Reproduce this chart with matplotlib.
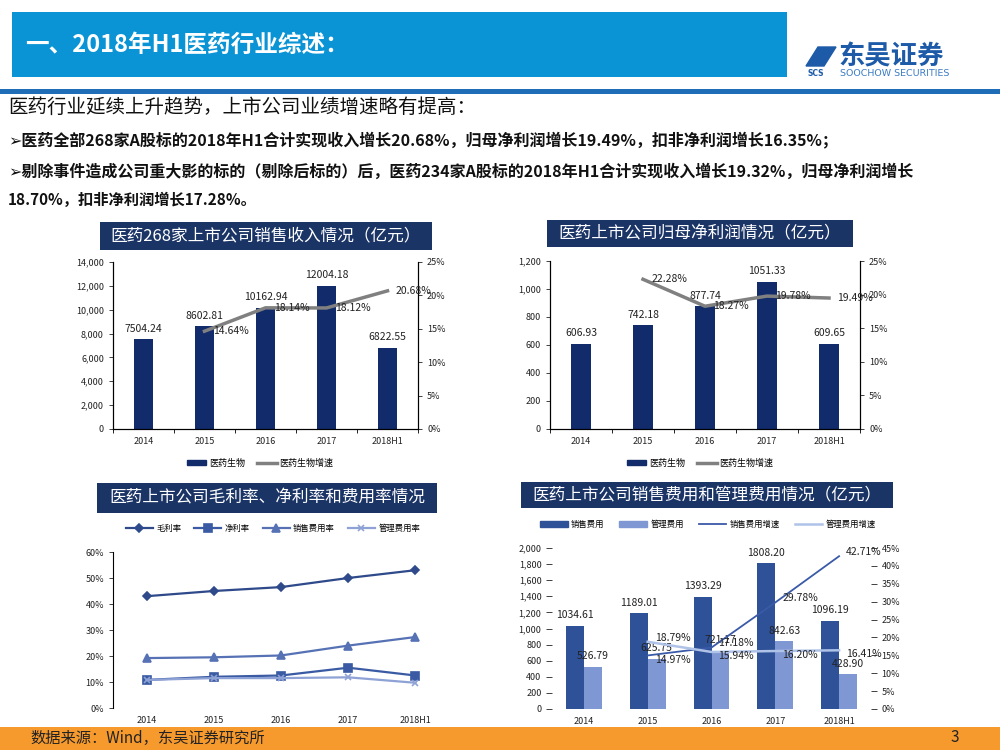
import numpy as np
import matplotlib.pyplot as plt
from matplotlib.patches import Rectangle, Patch, Polygon
from matplotlib.lines import Line2D
from matplotlib.ticker import FuncFormatter

plt.rcParams['font.family'] = ['Noto Sans CJK SC', 'DejaVu Sans']
plt.rcParams['axes.unicode_minus'] = False

# ---- data ----
years = ["2014", "2015", "2016", "2017", "2018H1"]

revenue = [7504.24, 8602.81, 10162.94, 12004.18, 6822.55]
revenue_growth = [14.64, 18.14, 18.12, 20.68]          # from 2015

profit = [606.93, 742.18, 877.74, 1051.33, 609.65]
profit_growth = [22.28, 18.27, 19.78, 19.49]           # from 2015

gross_margin = [43.0, 45.0, 46.5, 50.0, 53.0]
net_margin = [10.8, 12.0, 12.5, 15.5, 12.5]
sales_ratio = [19.2, 19.5, 20.2, 24.0, 27.3]
admin_ratio = [10.8, 11.5, 11.5, 11.8, 9.7]
ratio_names = ["毛利率", "净利率", "销售费用率", "管理费用率"]

sales_exp = [1034.61, 1189.01, 1393.29, 1808.20, 1096.19]
admin_exp = [526.79, 625.75, 721.17, 842.63, 428.90]
sales_growth = [14.97, 17.18, 29.78, 42.71]            # from 2015
admin_growth = [18.79, 15.94, 16.20, 16.41]            # from 2015

NAVY = '#112B6B'
BOX = '#1B3466'
GRAY = '#808080'

fig = plt.figure(figsize=(10, 7.5), dpi=100)


def px(x0, y0, x1, y1):
    return [x0 / 1000, 1 - y1 / 750, (x1 - x0) / 1000, (y1 - y0) / 750]


def fx(x):
    return x / 1000


def fy(y):
    return 1 - y / 750


def box(x0, y0, x1, y1, color, z=0):
    fig.add_artist(Rectangle((fx(x0), fy(y1)), fx(x1) - fx(x0), fy(y0) - fy(y1),
                             transform=fig.transFigure, color=color, zorder=z, lw=0))


def title_box(x0, y0, x1, y1, text):
    box(x0, y0, x1, y1, BOX)
    fig.text(fx((x0 + x1) / 2), fy((y0 + y1) / 2), text, color='white', fontsize=12,
             ha='center', va='center')


# ---- header ----
box(12, 12, 787, 77, '#0A94D6')
fig.text(fx(25), fy(45), "一、2018年H1医药行业综述：", color='white', fontsize=17,
         fontweight='bold', ha='left', va='center')
fig.add_artist(Polygon([(fx(806), fy(66)), (fx(818), fy(47)), (fx(836), fy(47)), (fx(824), fy(66))],
                       closed=True, transform=fig.transFigure, color='#1D5BA8'))
fig.text(fx(808), fy(73), "SCS", color='#1D5BA8', fontsize=5.5, fontweight='bold',
         ha='left', va='center', family='DejaVu Sans')
fig.text(fx(838), fy(57), "东吴证券", color='#1D5BA8', fontsize=19, fontweight='bold',
         ha='left', va='center')
fig.text(fx(840), fy(73), "SOOCHOW SECURITIES", color='#3B7CC4', fontsize=6.8,
         ha='left', va='center', family='DejaVu Sans')
box(0, 89, 1000, 94, '#1F6DB6')

# ---- body text ----
fig.text(fx(8), fy(107), "医药行业延续上升趋势，上市公司业绩增速略有提高：", fontsize=14,
         ha='left', va='center', color='#111111')
fig.text(fx(8), fy(140), "➢医药全部268家A股标的2018年H1合计实现收入增长20.68%，归母净利润增长19.49%，扣非净利润增长16.35%；",
         fontsize=11.5, fontweight='bold', ha='left', va='center', color='#111111')
fig.text(fx(8), fy(172), "➢剔除事件造成公司重大影的标的（剔除后标的）后，医药234家A股标的2018年H1合计实现收入增长19.32%，归母净利润增长",
         fontsize=11.5, fontweight='bold', ha='left', va='center', color='#111111')
fig.text(fx(8), fy(200), "18.70%，扣非净利润增长17.28%。",
         fontsize=11, fontweight='bold', ha='left', va='center', color='#111111')

# ---- footer ----
box(0, 727, 1000, 750, '#F79A2E')
fig.text(fx(30), fy(738), "数据来源：Wind，东吴证券研究所", fontsize=11, ha='left', va='center',
         color='#222222')
fig.text(fx(955), fy(738), "3", fontsize=11, ha='center', va='center', color='#222222')

x = np.arange(len(years))
pct = FuncFormatter(lambda v, p: f"{v:.0f}%")
thou = FuncFormatter(lambda v, p: f"{v:,.0f}")


def style_axes(ax, show_spines=True):
    for s in ['top']:
        ax.spines[s].set_visible(False)
    for s in ['left', 'right', 'bottom']:
        ax.spines[s].set_visible(show_spines)
        ax.spines[s].set_linewidth(0.8)
    ax.tick_params(axis='both', labelsize=6.5, length=3, width=0.6, colors='#222222')
    ax.set_xlim(-0.5, len(years) - 0.5)
    ax.set_xticks(x)
    ax.set_xticklabels(years)
    ax.tick_params(axis='x', length=0, pad=6)
    ax.set_xticks(np.arange(len(years) + 1) - 0.5, minor=True)
    ax.tick_params(axis='x', which='minor', length=3 if show_spines else 0)


def bar_line_chart(rect, vals, growth, ymax, ystep, gmax, legend_xy):
    ax = fig.add_axes(px(*rect))
    ax.bar(x, vals, width=0.31, color=NAVY, zorder=2)
    ax.set_ylim(0, ymax)
    ax.set_yticks(np.arange(0, ymax + 1, ystep))
    ax.yaxis.set_major_formatter(thou)
    style_axes(ax)
    for i, v in enumerate(vals):
        ax.annotate(f"{v:.2f}", (i, v), xytext=(0, 4), textcoords='offset points',
                    ha='center', va='bottom', fontsize=7.5, color='#222222')
    ax2 = ax.twinx()
    ax2.plot(x[1:], growth, color=GRAY, lw=2.5, zorder=3)
    ax2.set_ylim(0, gmax)
    ax2.set_yticks(np.arange(0, gmax + 1, 5))
    ax2.yaxis.set_major_formatter(pct)
    ax2.spines['top'].set_visible(False)
    ax2.tick_params(axis='y', labelsize=6.5, length=3, width=0.6, colors='#222222')
    for i, g in zip(x[1:], growth):
        ax2.annotate(f"{g:.2f}%", (i, g), xytext=(6, 0), textcoords='offset points',
                     ha='left', va='center', fontsize=7.5, color='#222222')
    handles = [Patch(color=NAVY), Line2D([], [], color=GRAY, lw=2.5)]
    fig.legend(handles, ["医药生物", "医药生物增速"], loc='center',
               bbox_to_anchor=(fx(legend_xy[0]), fy(legend_xy[1])), ncol=2, frameon=False,
               fontsize=6.5, handlelength=2.2, handleheight=0.6, columnspacing=1.3,
               handletextpad=0.3)


# ---- chart 1 ----
title_box(100, 222, 432, 250, "医药268家上市公司销售收入情况（亿元）")
bar_line_chart((113, 262, 418, 429), revenue, revenue_growth, 14000, 2000, 25, (260, 463))

# ---- chart 2 ----
title_box(547, 220, 853, 247, "医药上市公司归母净利润情况（亿元）")
bar_line_chart((550, 261, 860, 429), profit, profit_growth, 1200, 200, 25, (700, 463))

# ---- chart 3 ----
title_box(97, 483, 437, 513, "医药上市公司毛利率、净利率和费用率情况")
ax3 = fig.add_axes(px(113, 552, 449, 708))
series3 = [gross_margin, net_margin, sales_ratio, admin_ratio]
colors3 = ['#2F4A8A', '#3A5BA3', '#5672B5', '#8FA2D6']
markers3 = ['D', 's', '^', 'x']
msizes3 = [4, 6, 6, 5]
handles3 = []
for s, c, m, ms in zip(series3, colors3, markers3, msizes3):
    h, = ax3.plot(x, s, color=c, marker=m, markersize=ms, lw=1.6, mew=1.2)
    handles3.append(h)
ax3.set_ylim(0, 60)
ax3.set_yticks(np.arange(0, 61, 10))
ax3.yaxis.set_major_formatter(pct)
style_axes(ax3)
ax3.spines['right'].set_visible(False)
ax3.spines['bottom'].set_visible(False)
ax3.tick_params(axis='x', which='minor', length=0)
fig.legend(handles3, ratio_names, loc='center', bbox_to_anchor=(fx(273), fy(528)), ncol=4,
           frameon=False, fontsize=6, handlelength=3.2, columnspacing=1.6, handletextpad=0.4)

# ---- chart 4 ----
title_box(521, 482, 893, 508, "医药上市公司销售费用和管理费用情况（亿元）")
DARK4 = '#2E5197'
LIGHT4 = '#7F97D3'
SLINE = '#3A5AA8'
ALINE = '#AFC2E8'
ax4 = fig.add_axes(px(552, 548, 871, 709))
w = 0.28
ax4.bar(x - w / 2, sales_exp, width=w, color=DARK4, zorder=2)
ax4.bar(x + w / 2, admin_exp, width=w, color=LIGHT4, zorder=2)
ax4.set_ylim(0, 2000)
ax4.set_yticks(np.arange(0, 2001, 200))
ax4.yaxis.set_major_formatter(thou)
style_axes(ax4, show_spines=False)
ax4.tick_params(axis='y', length=4)
for i, v in enumerate(sales_exp):
    ax4.annotate(f"{v:.2f}", (i - w / 2, v), xytext=(0, 4), textcoords='offset points',
                 ha='center', va='bottom', fontsize=7.5, color='#222222')
for i, v in enumerate(admin_exp):
    ax4.annotate(f"{v:.2f}", (i + w / 2, v), xytext=(0, 4), textcoords='offset points',
                 ha='center', va='bottom', fontsize=7.5, color='#222222')
ax5 = ax4.twinx()
ax5.plot(x[1:], sales_growth, color=SLINE, lw=1.3, zorder=3)
ax5.plot(x[1:], admin_growth, color=ALINE, lw=1.8, zorder=3)
ax5.set_ylim(0, 45)
ax5.set_yticks(np.arange(0, 46, 5))
ax5.yaxis.set_major_formatter(pct)
for s in ax5.spines.values():
    s.set_visible(False)
ax5.tick_params(axis='y', labelsize=6.5, length=4, width=0.6, colors='#222222')
for i, (sg, ag) in enumerate(zip(sales_growth, admin_growth)):
    hi_s = sg > ag
    ax5.annotate(f"{sg:.2f}%", (x[i + 1], sg), xytext=(5, 3 if hi_s else -3),
                 textcoords='offset points', ha='left', va='center', fontsize=7.5,
                 color='#222222')
    ax5.annotate(f"{ag:.2f}%", (x[i + 1], ag), xytext=(5, -3 if hi_s else 3),
                 textcoords='offset points', ha='left', va='center', fontsize=7.5,
                 color='#222222')
handles4 = [Patch(color=DARK4), Patch(color=LIGHT4),
            Line2D([], [], color=SLINE, lw=1.3), Line2D([], [], color=ALINE, lw=1.8)]
fig.legend(handles4, ["销售费用", "管理费用", "销售费用增速", "管理费用增速"], loc='center',
           bbox_to_anchor=(fx(708), fy(524)), ncol=4, frameon=False, fontsize=6,
           handlelength=3.3, handleheight=0.7, columnspacing=1.8, handletextpad=0.4)

fig.savefig("out.png", dpi=100)
